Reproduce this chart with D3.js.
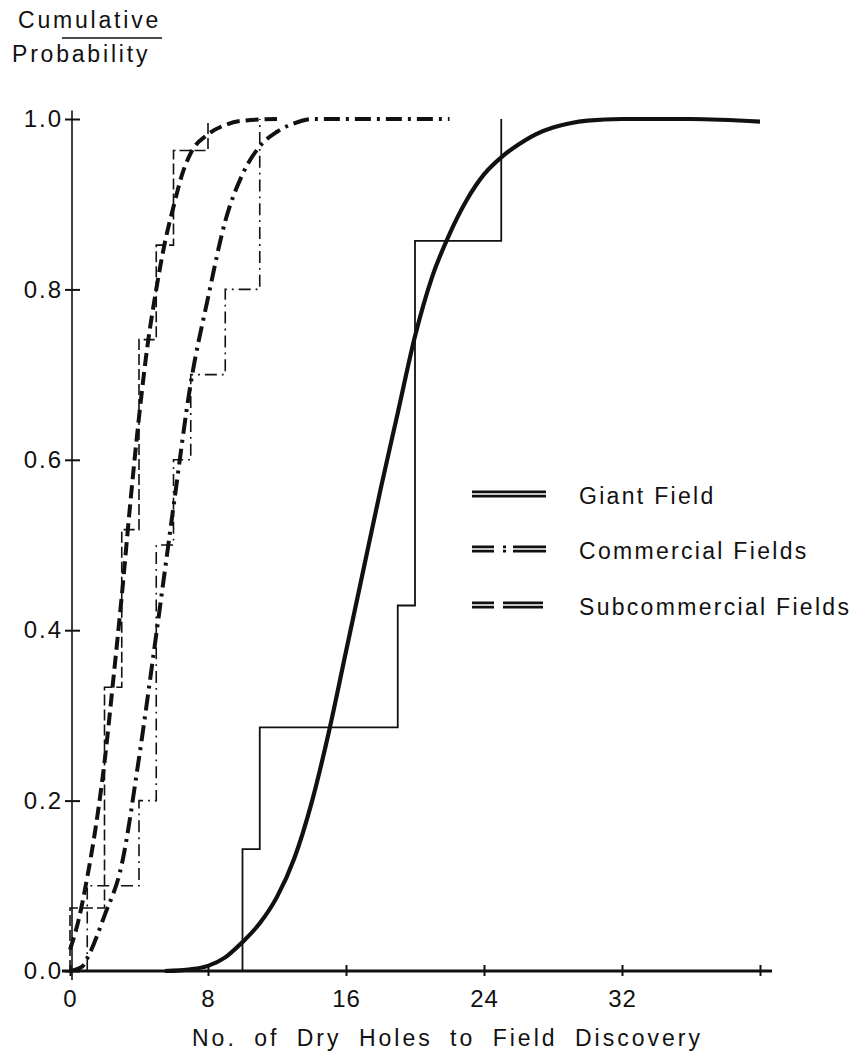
<!DOCTYPE html>
<html>
<head>
<meta charset="utf-8">
<script src="https://cdn.jsdelivr.net/npm/d3@7"></script>
<style>
  html, body { margin: 0; padding: 0; background: #fff; }
  svg { display: block; }
  text { font-family: "Liberation Sans", Arial, sans-serif; fill: #111; }
</style>
</head>
<body>
<svg id="chart" width="867" height="1063"></svg>
<script>
// ---- data ----
const xTicks = [0, 8, 16, 24, 32, 40];
const xTickLabels = ["0", "8", "16", "24", "32", ""];
const yTicks = [0, 0.2, 0.4, 0.6, 0.8, 1.0];
const yTickLabels = ["0.0", "0.2", "0.4", "0.6", "0.8", "1.0"];

const seriesNames = ["Giant Field", "Commercial Fields", "Subcommercial Fields"];

// empirical (step) distributions
const giantStepX = [10, 10, 11, 19, 20, 25];
const giantStepP = [0, 0.143, 0.286, 0.429, 0.857, 1.0];
const commercialStepX = [1, 1, 4, 5, 6, 7, 9, 11];
const commercialStepP = [0, 0.10, 0.20, 0.50, 0.60, 0.70, 0.80, 1.0];
const subcommercialStepX = [0, 0, 2, 3, 4, 5, 6, 8];
const subcommercialStepP = [0, 0.074, 0.333, 0.518, 0.741, 0.852, 0.963, 1.0];

// fitted (smooth) distributions
const giantCurveX = [5.5, 7, 8, 9, 10, 11, 12, 13, 14, 15, 16, 17, 18, 19, 20, 21, 22, 23, 24, 25, 26, 27, 28, 29, 30, 32, 36, 40];
const giantCurveP = [0, 0.002, 0.006, 0.016, 0.034, 0.056, 0.087, 0.132, 0.197, 0.28, 0.375, 0.47, 0.565, 0.655, 0.745, 0.815, 0.865, 0.905, 0.935, 0.955, 0.97, 0.982, 0.99, 0.995, 0.998, 1.0, 1.0, 0.997];
const commercialCurveX = [0, 0.7, 1, 2, 3, 4, 5, 6, 7, 8, 9, 10, 11, 12, 13, 14, 22];
const commercialCurveP = [0, 0.005, 0.015, 0.065, 0.125, 0.25, 0.395, 0.545, 0.69, 0.79, 0.88, 0.935, 0.968, 0.985, 0.995, 1.0, 1.0];
const subcommercialCurveX = [0, 0.5, 1, 1.5, 2, 2.5, 3, 3.5, 4, 4.5, 5, 5.5, 6, 6.5, 7, 8, 9, 10, 12];
const subcommercialCurveP = [0.025, 0.06, 0.11, 0.17, 0.245, 0.34, 0.44, 0.55, 0.65, 0.735, 0.80, 0.855, 0.897, 0.935, 0.96, 0.982, 0.993, 0.998, 1.0];

// ---- drawing ----
const svg = d3.select("#chart");
const x = d3.scaleLinear().domain([0, 40]).range([70, 760]);
const y = d3.scaleLinear().domain([0, 1]).range([971, 119]);

const zip = (xs, ps) => xs.map((v, i) => [v, ps[i]]);
const stepLine = d3.line().x(d => x(d[0])).y(d => y(d[1])).curve(d3.curveStepAfter);
const smoothLine = d3.line().x(d => x(d[0])).y(d => y(d[1])).curve(d3.curveMonotoneX);

// y axis title
svg.append("text").attr("x", 18).attr("y", 28).attr("font-size", 23).attr("letter-spacing", 2.8).text("Cumulative");
svg.append("line").attr("x1", 62).attr("x2", 162).attr("y1", 38).attr("y2", 38).attr("stroke", "#111").attr("stroke-width", 1.3);
svg.append("text").attr("x", 12).attr("y", 62).attr("font-size", 23).attr("letter-spacing", 2.8).text("Probability");

// y axis
const yAxis = d3.axisLeft(y).tickValues(yTicks).tickFormat((d, i) => yTickLabels[i]).tickSize(7).tickPadding(6);
const gy = svg.append("g").attr("transform", "translate(72,0)").call(yAxis);
gy.select(".domain").remove();
gy.selectAll(".tick line").attr("x1", 8).attr("stroke", "#111").attr("stroke-width", 2);
gy.selectAll(".tick text").attr("font-size", 24).attr("letter-spacing", 2).attr("fill", "#111")
  .attr("font-family", "Liberation Sans, Arial, sans-serif").attr("x", -9);
svg.append("line").attr("x1", 72).attr("x2", 72).attr("y1", y(0) + 9).attr("y2", y(1.01))
  .attr("stroke", "#111").attr("stroke-width", 1.6);

// x axis
const xAxis = d3.axisBottom(x).tickValues(xTicks).tickFormat((d, i) => xTickLabels[i]).tickSize(5).tickPadding(14);
const gx = svg.append("g").attr("transform", `translate(0,${y(0)})`).call(xAxis);
gx.select(".domain").remove();
gx.selectAll(".tick line").attr("y1", -6).attr("stroke", "#111").attr("stroke-width", 2);
gx.selectAll(".tick text").attr("font-size", 24).attr("letter-spacing", 1).attr("fill", "#111")
  .attr("font-family", "Liberation Sans, Arial, sans-serif");
svg.append("line").attr("x1", 62).attr("x2", x(40.7)).attr("y1", y(0)).attr("y2", y(0))
  .attr("stroke", "#111").attr("stroke-width", 2.8);

svg.append("text").attr("x", 192).attr("y", 1046).attr("font-size", 23)
  .attr("letter-spacing", 3).attr("word-spacing", 8).text("No. of Dry Holes to Field Discovery");

// step functions (thin)
svg.append("path").datum(zip(giantStepX, giantStepP)).attr("d", stepLine)
  .attr("fill", "none").attr("stroke", "#111").attr("stroke-width", 1.8);
svg.append("path").datum(zip(commercialStepX, commercialStepP)).attr("d", stepLine)
  .attr("fill", "none").attr("stroke", "#111").attr("stroke-width", 1.6).attr("stroke-dasharray", "12,5,1.8,5");
svg.append("path").datum(zip(subcommercialStepX, subcommercialStepP)).attr("d", stepLine)
  .attr("fill", "none").attr("stroke", "#111").attr("stroke-width", 1.6).attr("stroke-dasharray", "11,4");

// fitted curves (thick)
svg.append("path").datum(zip(giantCurveX, giantCurveP)).attr("d", smoothLine)
  .attr("fill", "none").attr("stroke", "#111").attr("stroke-width", 4.2);
svg.append("path").datum(zip(commercialCurveX, commercialCurveP)).attr("d", smoothLine)
  .attr("fill", "none").attr("stroke", "#111").attr("stroke-width", 4).attr("stroke-dasharray", "16,6,3,6");
svg.append("path").datum(zip(subcommercialCurveX, subcommercialCurveP)).attr("d", smoothLine)
  .attr("fill", "none").attr("stroke", "#111").attr("stroke-width", 4).attr("stroke-dasharray", "13,6");

// legend
const legendY = [494, 549, 605];
const legendDash = [null, "22,9,3,7,40", "22,9,40"];
const lg = svg.append("g");
seriesNames.forEach((name, i) => {
  [-2.2, 2.2].forEach(off => {
    lg.append("line").attr("x1", 472).attr("x2", 546)
      .attr("y1", legendY[i] + off).attr("y2", legendY[i] + off)
      .attr("stroke", "#111").attr("stroke-width", 2.8)
      .attr("stroke-dasharray", legendDash[i]);
  });
  lg.append("text").attr("x", 579).attr("y", legendY[i] + 10).attr("font-size", 23)
    .attr("letter-spacing", 2.3).text(name);
});
</script>
</body>
</html>
